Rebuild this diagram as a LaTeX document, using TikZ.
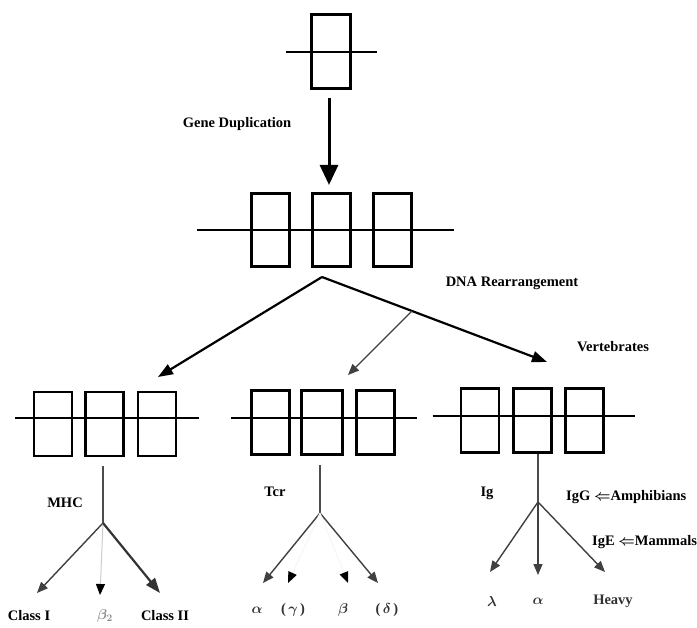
\documentclass[tikz,border=0pt]{standalone}
\usepackage{fontspec}
\setmainfont{Liberation Serif}
\usetikzlibrary{arrows.meta,calc}

\begin{document}
\begin{tikzpicture}[
  x=1pt, y=-1pt,
  gene/.style = {draw, line width=2.6pt, minimum width=38pt, minimum height=64pt, inner sep=0pt},
  strand/.style = {line width=2.6pt},
  bigarrow/.style = {-{Triangle[length=20pt,width=18pt]}, line width=3pt},
  branch/.style = {-{Triangle[length=15pt,width=11pt]}, line width=2.2pt},
  leaf/.style = {-{Triangle[length=11pt,width=9pt]}, line width=1.4pt, black!75},
  ghost/.style = {-{Triangle[length=11pt,width=9pt,black]}, line width=1pt},
  stem/.style = {line width=1.4pt, black!70},
  lbl/.style = {font=\bfseries\boldmath\fontsize{14.5}{16}\selectfont, inner sep=0pt}]
  \useasboundingbox (0,0) rectangle (697,628);

  % ancestral gene
  \node[gene, minimum width=39pt, minimum height=74pt] (g0) at (331,51.5) {};
  \draw[strand] ([xshift=-24pt,yshift=-0.5pt]g0.west) -- ([xshift=25pt,yshift=-0.5pt]g0.east);

  % duplicated genes
  \node[gene, minimum height=73.5pt] (d1) at (270.5,230) {};
  \node[gene, minimum height=73.5pt] (d2) at (331.5,230) {};
  \node[gene, minimum height=73.5pt] (d3) at (392.5,230) {};
  \draw[strand] ([xshift=-53pt]d1.west) -- ([xshift=41pt]d3.east);

  % MHC
  \node[gene] (m1) at (53,424) {};
  \node[gene] (m2) at (104.5,424) {};
  \node[gene] (m3) at (157,424) {};
  \draw[strand] ([xshift=-18pt,yshift=6pt]m1.west) -- ([xshift=22pt,yshift=6pt]m3.east);

  % Tcr
  \node[gene] (t1) at (270.5,422.5) {};
  \node[gene, minimum width=41pt] (t2) at (322,422.5) {};
  \node[gene] (t3) at (375.5,422.5) {};
  \draw[strand] ([xshift=-19pt,yshift=4.5pt]t1.west) -- ([xshift=21pt,yshift=4.5pt]t3.east);

  % Ig
  \node[gene] (i1) at (480,420.5) {};
  \node[gene] (i2) at (532.5,420.5) {};
  \node[gene] (i3) at (584.5,420.5) {};
  \draw[strand] ([xshift=-27pt,yshift=4.5pt]i1.west) -- ([xshift=30pt,yshift=4.5pt]i3.east);

  % labels
  \node[lbl] (gd) at (237,124) {Gene Duplication};
  \node[lbl] (dna) at (512,283) {DNA Rearrangement};
  \node[lbl] (vert) at (613,347) {Vertebrates};
  \node[lbl] (mhc) at (65,503) {MHC};
  \node[lbl] (tcr) at (275,492) {Tcr};
  \node[lbl] (ig) at (487,493) {Ig};
  \node[lbl, anchor=west] (igg) at (566,497) {IgG $\Leftarrow$Amphibians};
  \node[lbl, anchor=west] (ige) at (592,542) {IgE $\Leftarrow$Mammals};

  % duplication and rearrangement arrows
  \draw[bigarrow] ([xshift=-2pt,yshift=-8pt]g0.south) -- ([xshift=-2.5pt,yshift=7pt]d2.north);
  \coordinate (split) at (322,277);
  \coordinate (toMHC) at (158,377);
  \coordinate (toIg) at (547,362);
  \coordinate (toTcr) at (348,375);
  \coordinate (onIg) at ($(split)!0.4!(toIg)$);
  \draw[branch] (split) -- (toMHC);
  \draw[branch] (split) -- (toIg);
  \draw[leaf] (onIg) -- (toTcr);

  % MHC tree
  \coordinate (mfork) at (103,523);
  \node[lbl] (c1) at (29,616) {Class I};
  \node[lbl, black!45] (b2) at (105,616) {$\beta_2$};
  \node[lbl] (c2) at (165,616) {Class II};
  \coordinate (mL) at (37,593);
  \coordinate (mM) at (100,595);
  \coordinate (mR) at (160,593);
  \draw[stem] ([xshift=-1.5pt,yshift=-9pt]m2.south) -- (mfork);
  \draw[leaf] (mfork) -- (mL);
  \draw[ghost, black!20] (mfork) -- (mM);
  \draw[branch, black!80] (mfork) -- (mR);

  % Tcr tree
  \coordinate (tfork) at (320,513);
  \node[lbl, black!80] (ta) at (257,610) {$\alpha$};
  \node[lbl, black!80] (tg) at (293,610) {(\,$\gamma$\,)};
  \node[lbl, black!80] (tb) at (343,610) {$\beta$};
  \node[lbl, black!80] (td) at (387,610) {(\,$\delta$\,)};
  \coordinate (tL) at (263,583);
  \coordinate (tR) at (378,583);
  \coordinate (tl) at (288,583);
  \coordinate (tr) at (348,583);
  \draw[stem] ([xshift=-2pt,yshift=-9pt]t2.south) -- (tfork);
  \draw[leaf] (tfork) -- (tL);
  \draw[leaf] (tfork) -- (tR);
  \draw[ghost, black!4] (tfork) -- (tl);
  \draw[ghost, black!4] (tfork) -- (tr);

  % Ig tree
  \coordinate (ifork) at (538,502);
  \node[lbl, black!80] (il) at (492,601) {$\lambda$};
  \node[lbl, black!80] (ia) at (538,601) {$\alpha$};
  \node[lbl, black!80] (ih) at (613,601) {Heavy};
  \coordinate (iL) at (490,572);
  \coordinate (iM) at (538,575);
  \coordinate (iR) at (605,572);
  \draw[stem] ([xshift=5.5pt]i2.south) -- (ifork);
  \draw[leaf] (ifork) -- (iL);
  \draw[leaf] (ifork) -- (iM);
  \draw[leaf] (ifork) -- (iR);
\end{tikzpicture}
\end{document}
